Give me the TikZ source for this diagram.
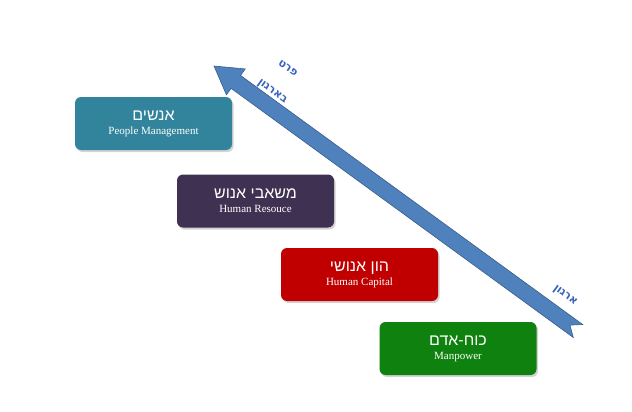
\documentclass[tikz,border=0pt]{standalone}
\usepackage{fontspec}
\setmainfont{Liberation Serif}
\newfontfamily\heb[Script=Hebrew]{Liberation Sans}
\newfontfamily\hebl[Script=Hebrew]{DejaVu Sans}
\TeXXeTstate=1
\usetikzlibrary{calc,shadows}
\definecolor{cteal}{HTML}{31849B}
\definecolor{cpurple}{HTML}{3F3151}
\definecolor{cred}{HTML}{C00000}
\definecolor{cgreen}{HTML}{0E810E}
\definecolor{carrow}{HTML}{4F81BD}
\definecolor{carrowd}{HTML}{385D8A}
\definecolor{clabel}{HTML}{3A62C0}
\tikzset{
 box/.style={rounded corners=6pt, minimum width=157pt, minimum height=53pt, text=white, align=center, inner sep=0pt, drop shadow={shadow xshift=1.5pt, shadow yshift=-2pt, opacity=0.35}},
 lab/.style={text=clabel, font=\hebl\bfseries\fontsize{11}{12}\selectfont, rotate=-36, inner sep=0pt}
}
\newcommand{\bx}[2]{{\heb\fontsize{16}{18}\selectfont\beginR #1\endR}\\[2pt]{\fontsize{11}{12}\selectfont #2}}
\begin{document}
\begin{tikzpicture}[x=1pt,y=-1pt]
\useasboundingbox (0,0) rectangle (632,412);
\node[box, fill=cteal] (b1) at (153.5,123.5) {\bx{אנשים}{People Management}};
\node[box, fill=cpurple] (b2) at (255.5,201) {\bx{משאבי אנוש}{Human Resouce}};
\node[box, fill=cred] (b3) at (359.5,274.5) {\bx{הון אנושי}{Human Capital}};
\node[box, fill=cgreen] (b4) at (458,348.5) {\bx{כוח-אדם}{Manpower}};
\coordinate (H) at (214,66);
\coordinate (T) at (578,331);
\coordinate (B) at ($(H)!27pt!(T)$);
\coordinate (N) at ($(T)!10pt!(H)$);
\fill[carrow, draw=carrowd, line width=0.6pt]
 (H) -- ($(B)!16pt!90:(T)$) -- ($(B)!8pt!90:(T)$) -- ($(T)!8pt!-90:(H)$)
 -- (N) -- ($(T)!8pt!90:(H)$) -- ($(B)!8pt!-90:(T)$) -- ($(B)!16pt!-90:(T)$) -- cycle;
\node[lab] (l1) at (288,68) {\beginR פרט\endR};
\node[lab] (l2) at (272,92) {\beginR בארגון\endR};
\node[lab] (l3) at (565,296) {\beginR ארגון\endR};
\end{tikzpicture}
\end{document}
